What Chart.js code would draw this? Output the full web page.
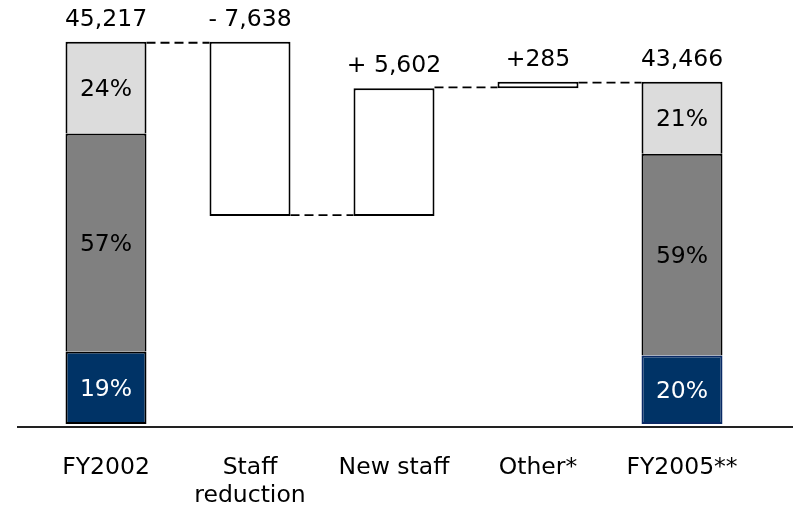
<!DOCTYPE html>
<html>
<head>
<meta charset="utf-8">
<script src="https://cdn.jsdelivr.net/npm/chart.js@4.4.1/dist/chart.umd.min.js"></script>
<style>
  html, body { margin: 0; padding: 0; background: #fff; }
  #wrap { width: 793px; height: 505px; position: relative; }
</style>
</head>
<body>
<div id="wrap"><canvas id="c"></canvas></div>
<script>
// Headcount bridge FY2002 -> FY2005
const categories = [['FY2002'], ['Staff', 'reduction'], ['New staff'], ['Other*'], ['FY2005**']];
const startTotal = 45217;                 // FY2002 headcount
const endTotal = 43466;                   // FY2005 headcount
const changes = [-7638, 5602, 285];       // staff reduction, new staff, other
const valueLabels = ['45,217', '- 7,638', '+ 5,602', '+285', '43,466'];

// Composition of the year-end columns, in percent (FY2002, FY2005)
const shareBottom = [19, 20];
const shareMiddle = [57, 59];
const shareTop = [24, 21];

// Value window of the (truncated) vertical axis
const AXIS_MIN = 28450;
const AXIS_MAX = 46000;

const FONT = 'DejaVu Sans';
const FONT_SIZE = 23.5;

// Share segments fill the visible part of a total column, bottom up
function shareSegment(total, fromPct, toPct) {
  const span = total - AXIS_MIN;
  return [AXIS_MIN + span * fromPct / 100, AXIS_MIN + span * toPct / 100];
}
function yearSeries(shares, offsets) {
  const a = shareSegment(startTotal, offsets[0], offsets[0] + shares[0]);
  const b = shareSegment(endTotal, offsets[1], offsets[1] + shares[1]);
  return [a, null, null, null, b];
}

// Running level for the floating change bars
const levels = [startTotal];
const changeBars = [null];
changes.forEach(c => {
  const prev = levels[levels.length - 1];
  const next = prev + c;
  changeBars.push([Math.min(prev, next), Math.max(prev, next)]);
  levels.push(next);
});
changeBars.push(null);

const bottomData = yearSeries(shareBottom, [0, 0]);
const middleData = yearSeries(shareMiddle, [shareBottom[0], shareBottom[1]]);
const topData = yearSeries(shareTop, [shareBottom[0] + shareMiddle[0], shareBottom[1] + shareMiddle[1]]);

const barCommon = {
  borderWidth: 2,
  borderSkipped: false,
  barPercentage: 0.5625,
  categoryPercentage: 1
};

const bridgePlugin = {
  id: 'bridge',
  beforeDatasetsDraw(chart) {
    // dashed connectors between consecutive columns at the running level
    const ctx = chart.ctx;
    const y = chart.scales.y;
    const metaYear = chart.getDatasetMeta(0);
    const metaChange = chart.getDatasetMeta(3);
    const barAt = i => (i === 0 || i === 4) ? metaYear.data[i] : metaChange.data[i];
    ctx.save();
    ctx.strokeStyle = '#000';
    ctx.lineWidth = 1.8;
    ctx.setLineDash([9, 5]);
    for (let i = 0; i < 4; i++) {
      const a = barAt(i), b = barAt(i + 1);
      const v = levels[i];
      const py = y.getPixelForValue(v) + (v < levels[i + 1] || i === 1 ? -0.9 : 0.9);
      ctx.beginPath();
      ctx.moveTo(a.x + a.width / 2, py);
      ctx.lineTo(b.x - b.width / 2, py);
      ctx.stroke();
    }
    ctx.restore();
  },
  afterDatasetsDraw(chart) {
    const ctx = chart.ctx;
    const y = chart.scales.y;
    const area = chart.chartArea;
    ctx.save();
    // base line
    ctx.strokeStyle = '#222';
    ctx.lineWidth = 2;
    ctx.beginPath();
    ctx.moveTo(17, area.bottom + 3);
    ctx.lineTo(chart.width, area.bottom + 3);
    ctx.stroke();

    ctx.font = FONT_SIZE + 'px "' + FONT + '"';
    ctx.textAlign = 'center';

    // value labels above each column
    const metaYear = chart.getDatasetMeta(2);
    const metaChange = chart.getDatasetMeta(3);
    const tops = [startTotal, changeBars[1][1], changeBars[2][1], changeBars[3][1], endTotal];
    ctx.fillStyle = '#000';
    ctx.textBaseline = 'alphabetic';
    tops.forEach((v, i) => {
      const bar = (i === 0 || i === 4) ? metaYear.data[i] : metaChange.data[i];
      ctx.fillText(valueLabels[i], bar.x, y.getPixelForValue(v) - 16);
    });

    // share labels inside the year columns
    ctx.textBaseline = 'middle';
    const shareSets = [[shareBottom, bottomData, '#fff'], [shareMiddle, middleData, '#000'], [shareTop, topData, '#000']];
    shareSets.forEach(([shares, data, color], d) => {
      const meta = chart.getDatasetMeta(d);
      [0, 4].forEach((idx, k) => {
        const seg = data[idx];
        ctx.fillStyle = color;
        ctx.fillText(shares[k] + '%', meta.data[idx].x, y.getPixelForValue((seg[0] + seg[1]) / 2) + 2);
      });
    });
    ctx.restore();
  }
};

new Chart(document.getElementById('c'), {
  type: 'bar',
  data: {
    labels: categories,
    datasets: [
      Object.assign({}, barCommon, { label: 'bottom', data: bottomData, backgroundColor: '#003366', borderColor: ['#000', null, null, null, '#0a2a66'] }),
      Object.assign({}, barCommon, { label: 'middle', data: middleData, backgroundColor: '#808080', borderColor: '#000', borderSkipped: 'bottom' }),
      Object.assign({}, barCommon, { label: 'top', data: topData, backgroundColor: '#DCDCDC', borderColor: '#000', borderSkipped: 'bottom' }),
      Object.assign({}, barCommon, { label: 'change', data: changeBars, backgroundColor: '#fff', borderColor: '#000' })
    ]
  },
  options: {
    responsive: true,
    maintainAspectRatio: false,
    animation: false,
    layout: { padding: { top: 24, left: 34, right: 39, bottom: 0 } },
    plugins: { legend: { display: false }, tooltip: { enabled: false } },
    scales: {
      x: {
        stacked: true,
        grid: { display: false, drawTicks: false },
        border: { display: false },
        ticks: {
          color: '#000',
          font: { family: FONT, size: FONT_SIZE, lineHeight: 1.23 },
          padding: 29,
          maxRotation: 0,
          autoSkip: false
        },
        afterFit(scale) { scale.height = 81; }
      },
      y: {
        display: false,
        stacked: false,
        min: AXIS_MIN,
        max: AXIS_MAX
      }
    }
  },
  plugins: [bridgePlugin]
});
</script>
</body>
</html>
